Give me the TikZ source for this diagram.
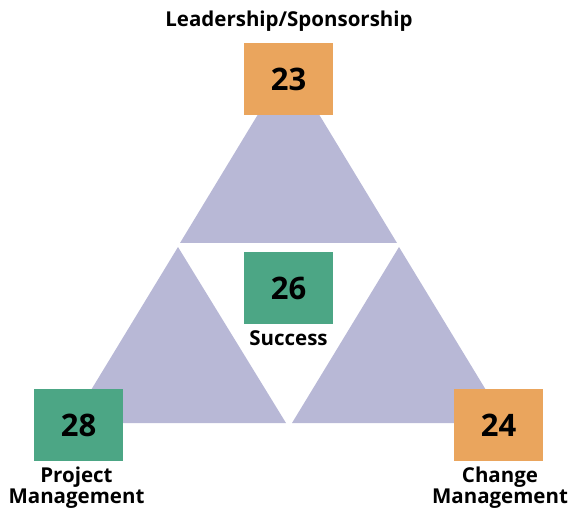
\documentclass[tikz,border=0pt]{standalone}
\usepackage{fontspec}
\setmainfont{Open Sans}
\definecolor{boxorange}{RGB}{234,165,93}
\definecolor{boxgreen}{RGB}{76,166,133}
\definecolor{lavender}{RGB}{184,184,214}
\begin{document}
\begin{tikzpicture}[x=1pt,y=-1pt,
  scorebox/.style={minimum width=89pt,minimum height=72pt,inner sep=0pt,
    font=\fontsize{31}{34}\selectfont\bfseries},
  caption/.style={align=center,inner sep=0pt,
    font=\fontsize{20.5}{21}\selectfont\bfseries}]
\useasboundingbox (0,0) rectangle (569,510);
% three lavender triangles
\fill[lavender] (288.5,64) -- (397,243) -- (180,243) -- cycle;
\fill[lavender] (178,247) -- (286,423) -- (71,423) -- cycle;
\fill[lavender] (399,247) -- (506,423) -- (292,423) -- cycle;
% score boxes
\node[scorebox,fill=boxorange] (lead) at (288.5,79) {23};
\node[scorebox,fill=boxgreen] (succ) at (288.5,288) {26};
\node[scorebox,fill=boxgreen] (proj) at (78.5,425) {28};
\node[scorebox,fill=boxorange] (chg) at (498.5,425) {24};
% captions
\node[caption,anchor=base] (leadlbl) at (289,27) {Leadership/Sponsorship};
\node[caption,anchor=base] (succlbl) at (288.5,345) {Success};
\node[caption,anchor=base] (projtop) at (76.5,482) {Project};
\node[caption,anchor=base] (projbot) at (76.5,503) {Management};
\node[caption,anchor=base] (chgtop) at (500,482) {Change};
\node[caption,anchor=base] (chgbot) at (500,503) {Management};
\end{tikzpicture}
\end{document}
